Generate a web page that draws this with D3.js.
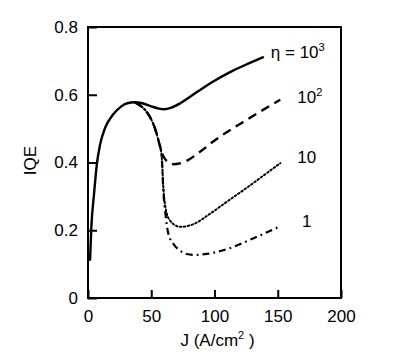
<!DOCTYPE html>
<html>
<head>
<meta charset="utf-8">
<script src="https://cdn.jsdelivr.net/npm/d3@7"></script>
<style>
  body { margin: 0; background: #fff; }
  text { font-family: "Liberation Sans", Arial, sans-serif; fill: #000; }
</style>
</head>
<body>
<div id="chart"></div>
<script>
'use strict';

// rise shared by every curve, up to the peak
const riseJ   = [1.6, 2.6, 4.7, 7.1, 9.5, 13.4, 19.5, 26.1, 31, 37];
const riseIqe = [0.11, 0.206, 0.304, 0.398, 0.452, 0.501, 0.54, 0.565, 0.575, 0.578];

// eta = 10^3 (solid)
const eta1000J   = [43, 50, 56, 60, 66, 73, 85, 99, 115, 128, 139];
const eta1000Iqe = [0.575, 0.566, 0.559, 0.557, 0.562, 0.575, 0.605, 0.639, 0.672, 0.694, 0.712];

// eta = 10^2 (dashed)
const eta100J   = [42, 47, 50.3, 53, 55.6, 58.2, 61, 64, 68, 72, 78, 88, 99, 125, 152];
const eta100Iqe = [0.566, 0.546, 0.525, 0.5, 0.466, 0.43, 0.41, 0.4, 0.395, 0.397, 0.405, 0.43, 0.462, 0.525, 0.585];

// eta = 10 (dotted)
const eta10J   = [42, 47, 50.3, 53, 55.6, 58.2, 59.5, 62.2, 65, 68.8, 72.7, 78, 84.6, 95, 112, 125, 140, 152];
const eta10Iqe = [0.566, 0.546, 0.525, 0.5, 0.466, 0.42, 0.33, 0.25, 0.228, 0.215, 0.21, 0.212, 0.22, 0.245, 0.29, 0.324, 0.365, 0.398];

// eta = 1 (dash-dot)
const eta1J   = [42, 47, 50.3, 53, 55.6, 58.2, 59.5, 61.5, 63.5, 67.5, 72, 78, 84.6, 93.8, 112, 130, 151];
const eta1Iqe = [0.566, 0.546, 0.525, 0.5, 0.466, 0.42, 0.32, 0.24, 0.19, 0.16, 0.142, 0.13, 0.127, 0.13, 0.147, 0.175, 0.21];

const xTicks = [0, 50, 100, 150, 200];
const yTicks = [0, 0.2, 0.4, 0.6, 0.8];

function toPoints(js, vals) {
  return js.map((j, i) => ({ j: j, v: vals[i] }));
}

const series = [
  { base: 'η = 10', sup: '3', dash: null, width: 2.4,
    pts: toPoints(riseJ.concat(eta1000J), riseIqe.concat(eta1000Iqe)), dx: 7, dy: 1 },
  { base: '10', sup: '2', dash: '9,6', width: 2.4,
    pts: toPoints([37].concat(eta100J), [0.578].concat(eta100Iqe)), dx: 17, dy: 3 },
  { base: '10', sup: '', dash: '1.6,2.4', width: 2,
    pts: toPoints([37].concat(eta10J), [0.578].concat(eta10Iqe)), dx: 17, dy: 0 },
  { base: '1', sup: '', dash: '7,4,1.8,4', width: 2.2,
    pts: toPoints([37].concat(eta1J), [0.578].concat(eta1Iqe)), dx: 23, dy: 0 },
];

const W = 415, H = 352;
const margin = { top: 27, right: 74, bottom: 54, left: 88 };
const width = W - margin.left - margin.right;
const height = H - margin.top - margin.bottom;

const svg = d3.select('#chart').append('svg')
  .attr('width', W).attr('height', H);
const g = svg.append('g')
  .attr('transform', `translate(${margin.left},${margin.top})`);

const x = d3.scaleLinear().domain([0, 200]).range([0, width]);
const y = d3.scaleLinear().domain([0, 0.8]).range([height, 0]);

const xAxis = g.append('g')
  .attr('transform', `translate(0,${height})`)
  .call(d3.axisBottom(x).tickValues(xTicks).tickFormat(d3.format('d'))
    .tickSizeInner(-8).tickSizeOuter(0).tickPadding(12));
const yAxis = g.append('g')
  .call(d3.axisLeft(y).tickValues(yTicks).tickFormat(d => d === 0 ? '0' : d3.format('.1f')(d))
    .tickSizeInner(-9).tickSizeOuter(0).tickPadding(10));

[xAxis, yAxis].forEach(a => {
  a.select('.domain').remove();
  a.selectAll('line').attr('stroke', '#000').attr('stroke-width', 2);
  a.selectAll('text').style('font-size', '17px')
    .style('font-family', '"Liberation Sans", Arial, sans-serif');
});

g.append('rect')
  .attr('x', 0).attr('y', 0).attr('width', width).attr('height', height)
  .attr('fill', 'none').attr('stroke', '#000').attr('stroke-width', 2);

const line = d3.line()
  .x(d => x(d.j)).y(d => y(d.v))
  .curve(d3.curveMonotoneX);

series.slice().reverse().forEach(s => {
  g.append('path')
    .datum(s.pts)
    .attr('d', line)
    .attr('fill', 'none')
    .attr('stroke', '#000')
    .attr('stroke-width', s.width)
    .attr('stroke-dasharray', s.dash)
    .attr('stroke-linecap', s.dash === '1.6,2.4' ? 'round' : 'butt');

  const last = s.pts[s.pts.length - 1];
  const t = g.append('text')
    .attr('x', x(last.j) + s.dx)
    .attr('y', y(last.v) + s.dy)
    .style('font-size', '17px');
  t.append('tspan').text(s.base);
  if (s.sup) {
    t.append('tspan').attr('dy', -7).style('font-size', '11px').text(s.sup);
  }
});

// axis titles
const xt = g.append('text')
  .attr('x', width / 2 + 3).attr('y', height + 48)
  .attr('text-anchor', 'middle').style('font-size', '17px');
xt.append('tspan').text('J (A/cm');
xt.append('tspan').attr('dy', -7).style('font-size', '11px').text('2');
xt.append('tspan').attr('dy', 7).text(' )');

g.append('text')
  .attr('transform', `translate(${-52},${height / 2 - 2}) rotate(-90)`)
  .attr('text-anchor', 'middle').style('font-size', '17px')
  .text('IQE');
</script>
</body>
</html>
